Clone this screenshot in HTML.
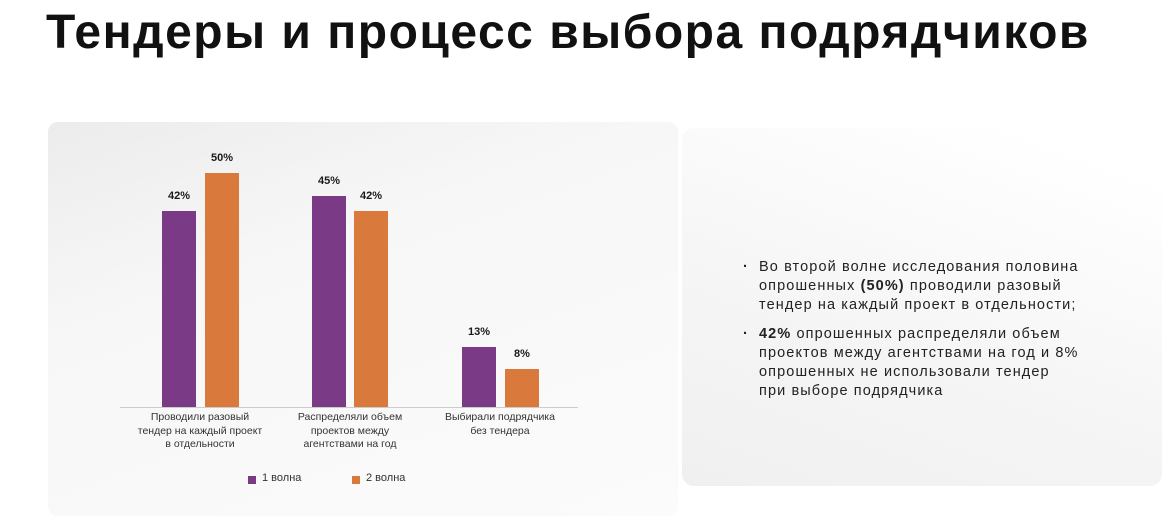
<!DOCTYPE html>
<html><head><meta charset="utf-8"><style>
body{margin:0;width:1176px;height:526px;background:#fff;position:relative;overflow:hidden;font-family:"Liberation Sans",sans-serif;color:#1a1a1a}
.title{position:absolute;left:46px;top:5px;font-size:48px;font-weight:bold;letter-spacing:1.5px;color:#111}
.p1{position:absolute;left:48px;top:122px;width:630px;height:394px;border-radius:10px;background:linear-gradient(160deg,#ececec 0%,#f7f7f7 35%,#fbfbfb 100%)}
.p2{position:absolute;left:682px;top:128px;width:480px;height:358px;border-radius:12px;background:linear-gradient(200deg,#fff 10%,#f5f5f5 60%,#f0f0f0 100%)}
.bar{position:absolute;width:34px}
.pu{background:#7a3a86}.or{background:#d97a3c}
.v{position:absolute;font-size:11px;font-weight:bold;width:50px;text-align:center}
.c{position:absolute;font-size:10.5px;text-align:center;line-height:13.5px;color:#333}
.txt{position:absolute;left:745px;top:258px;font-size:14.5px;line-height:19px;color:#222;letter-spacing:1.1px}
.txt div{position:relative;padding-left:14px;margin-bottom:10px}
.txt div:before{content:"·";position:absolute;left:-2px;top:0;font-weight:bold}
</style></head><body>
<div class="title">Тендеры и процесс выбора подрядчиков</div>
<div class="p1"></div><div class="p2"></div>
<div style="position:absolute;left:120px;top:407px;width:458px;height:1px;background:#ccc"></div>
<div class="bar pu" style="left:162px;top:211px;height:196px"></div>
<div class="bar or" style="left:205px;top:173px;height:234px"></div>
<div class="bar pu" style="left:312px;top:196px;height:211px"></div>
<div class="bar or" style="left:354px;top:211px;height:196px"></div>
<div class="bar pu" style="left:462px;top:347px;height:60px"></div>
<div class="bar or" style="left:505px;top:369px;height:38px"></div>
<div class="v" style="left:154px;top:190px">42%</div>
<div class="v" style="left:197px;top:152px">50%</div>
<div class="v" style="left:304px;top:175px">45%</div>
<div class="v" style="left:346px;top:190px">42%</div>
<div class="v" style="left:454px;top:326px">13%</div>
<div class="v" style="left:497px;top:348px">8%</div>
<div class="c" style="left:125px;top:411px;width:150px">Проводили разовый<br>тендер на каждый проект<br>в отдельности</div>
<div class="c" style="left:275px;top:411px;width:150px">Распределяли объем<br>проектов между<br>агентствами на год</div>
<div class="c" style="left:425px;top:411px;width:150px">Выбирали подрядчика<br>без тендера</div>
<div style="position:absolute;left:248px;top:476px;width:8px;height:8px;background:#7a3a86"></div>
<div style="position:absolute;left:262px;top:472px;font-size:11px;color:#333">1 волна</div>
<div style="position:absolute;left:352px;top:476px;width:8px;height:8px;background:#d97a3c"></div>
<div style="position:absolute;left:366px;top:472px;font-size:11px;color:#333">2 волна</div>
<div class="txt">
<div>Во второй волне исследования половина<br>опрошенных <b>(50%)</b> проводили разовый<br>тендер на каждый проект в отдельности;</div>
<div><b>42%</b> опрошенных распределяли объем<br>проектов между агентствами на год и 8%<br>опрошенных не использовали тендер<br>при выборе подрядчика</div>
</div>
</body></html>
